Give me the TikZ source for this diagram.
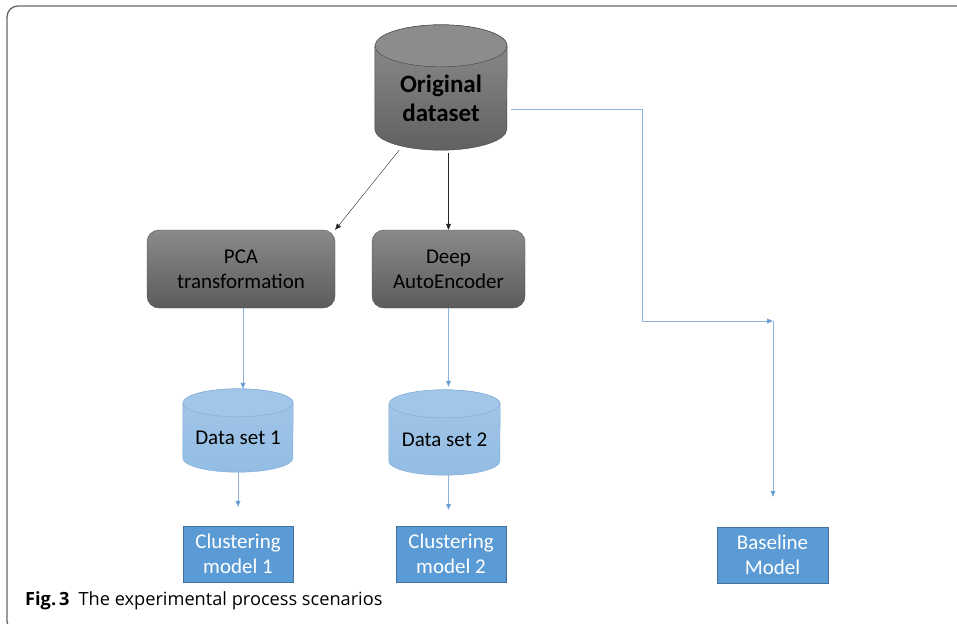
\documentclass[tikz,border=0pt]{standalone}
\usepackage{fontspec}
\setmainfont{Carlito}
\newfontfamily\capfont{Open Sans}
\usetikzlibrary{arrows.meta,backgrounds}

\definecolor{boxblue}{HTML}{5B9BD5}
\definecolor{boxedge}{HTML}{41719C}
\definecolor{lineblue}{HTML}{8DB3DA}
\definecolor{dsblue}{HTML}{9DC3E6}
\definecolor{dsedge}{HTML}{7FA9D6}

% cylinder round a node: name, x radius, y radius, body style, end style
\newcommand{\drawdb}[5]{%
  \path[#4] (#1.north west) -- ([yshift=#3]#1.south west)
    arc[start angle=180, end angle=360, x radius=#2, y radius=#3]
    -- (#1.north east)
    arc[start angle=0, end angle=180, x radius=#2, y radius=#3] -- cycle;
  \path[#5] (#1.north) ellipse[x radius=#2, y radius=#3];}

\begin{document}
\begin{tikzpicture}[x=1pt, y=-1pt, >={Triangle[length=6pt,width=5pt]},
  dbtext/.style={rectangle, inner sep=0pt, align=center},
  greybody/.style={draw=black!75, thin, top color=black!44, bottom color=black!62},
  greyend/.style={draw=black!75, thin, fill=black!45},
  bluebody/.style={draw=dsedge, thin, top color=dsblue!95, bottom color=dsblue!85!boxblue},
  blueend/.style={draw=dsedge, thin, fill=dsblue!95},
  greybox/.style={rectangle, rounded corners=12pt, draw=black!70, thin,
    top color=black!46, bottom color=black!64, minimum height=78pt, align=center},
  modelbox/.style={rectangle, fill=boxblue, draw=boxedge, thin, text=white,
    minimum width=110pt, minimum height=56pt, align=center},
  blk/.style={->, black!85, thin},
  blu/.style={-{Triangle[length=6pt,width=5pt,fill=boxblue]}, lineblue, thin}]
\useasboundingbox (0,0) rectangle (957,623);
\fontsize{21}{25}\selectfont

% frame
\draw[black!60, line width=1.3pt, rounded corners=11pt] (960,6) -- (7,6) -- (7,632) -- (40,632);

% data stores
\node[dbtext, minimum width=132pt, minimum height=104pt,
  font={\fontsize{25}{29}\selectfont\bfseries}] (orig) at (441,98) {Original\\dataset};
\node[dbtext, minimum width=110pt, minimum height=69pt] (ds1) at (238,437.5) {Data set 1};
\node[dbtext, minimum width=111pt, minimum height=71pt] (ds2) at (444.5,439.5) {Data set 2};

\begin{scope}[on background layer]
\drawdb{orig}{66pt}{21pt}{greybody}{greyend}
\drawdb{ds1}{55pt}{14pt}{bluebody}{blueend}
\drawdb{ds2}{55.5pt}{14pt}{bluebody}{blueend}
\end{scope}

% transformations
\node[greybox, minimum width=188pt] (pca) at (241,269) {PCA\\transformation};
\node[greybox, minimum width=153pt] (dae) at (448.5,269) {Deep\\AutoEncoder};

% models
\node[modelbox] (cl1) at (238,554) {Clustering\\model 1};
\node[modelbox] (cl2) at (451,554) {Clustering\\model 2};
\node[modelbox, minimum width=111pt] (base) at (772.5,555) {Baseline\\Model};

% caption
\node[anchor=base west, inner sep=0pt] (cap) at (25,605)
  {\capfont\fontsize{18.2}{22}\selectfont\bfseries Fig.\,3\hspace{9pt}\mdseries The experimental process scenarios};

% connectors
\draw[blk] (orig) -- (pca.north east);
\draw[blk] ([yshift=-3pt]dae.north |- orig.south) -- (dae.north);

\draw[blu, shorten >=14pt] ([xshift=2pt]pca.south) -- ([xshift=2pt]pca.south |- ds1.north);
\draw[blu, shorten >=17pt] (dae.south) -- (dae.south |- ds2.north);
\draw[blu, shorten >=19pt] (ds1.south) -- (ds1.south |- cl1.north);
\draw[blu, shorten >=16pt] ([xshift=4pt]ds2.south) -- ([xshift=4pt]ds2.south |- cl2.north);

\coordinate (tap) at ([shift={(4pt,-11pt)}]orig.east);
\coordinate (elbow) at (642,321);
\coordinate (turn) at (773,321);
\draw[blu] (tap) -- (elbow |- tap) -- (elbow) -- (turn);
\draw[blu, shorten >=30pt] (turn) -- (turn |- base.north);
\end{tikzpicture}
\end{document}
